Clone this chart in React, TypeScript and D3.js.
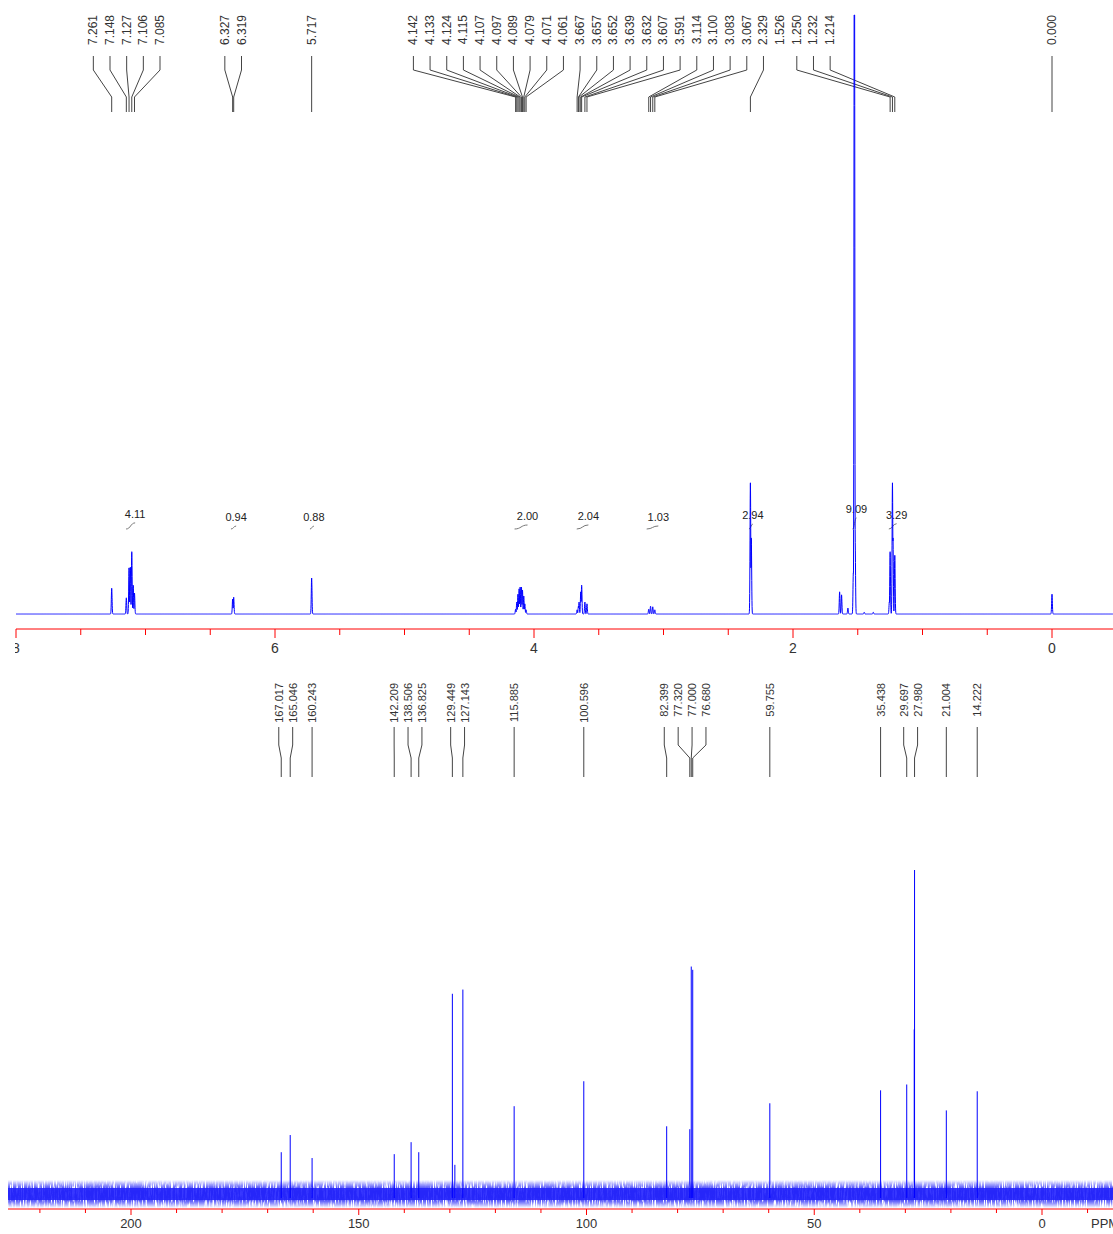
import React from "react";
import * as d3 from "d3";

// ---------- 1H spectrum data ----------
const H_AXIS_LABELS = [8, 6, 4, 2, 0];
const H_PEAK_LABELS = [
  7.261, 7.148, 7.127, 7.106, 7.085, 6.327, 6.319, 5.717,
  4.142, 4.133, 4.124, 4.115, 4.107, 4.097, 4.089, 4.079, 4.071, 4.061,
  3.667, 3.657, 3.652, 3.639, 3.632, 3.607, 3.591,
  3.114, 3.1, 3.083, 3.067, 2.329, 1.526, 1.25, 1.232, 1.214, 0.0,
];
// label block each peak label belongs to (categorical grouping)
const H_PEAK_LABEL_GROUP = [
  0, 0, 0, 0, 0, 1, 1, 2,
  3, 3, 3, 3, 3, 3, 3, 3, 3, 3,
  3, 3, 3, 3, 3, 3, 3,
  3, 3, 3, 3, 3, 3, 3, 3, 3, 4,
];
const H_LABELS_WITHOUT_LEADER = [1.526];

const H_PEAK_PPM = [
  7.261, 7.148, 7.127, 7.117, 7.106, 7.095, 7.085,
  6.327, 6.319, 5.717,
  4.142, 4.133, 4.124, 4.115, 4.107, 4.097, 4.089, 4.079, 4.071, 4.061,
  3.667, 3.657, 3.652, 3.639, 3.632, 3.607, 3.591,
  3.114, 3.1, 3.083, 3.067,
  2.329, 2.322, 1.64, 1.625, 1.576, 1.534, 1.526, 1.52, 1.45, 1.38,
  1.256, 1.25, 1.232, 1.228, 1.214, 0.0,
];
const H_PEAK_INTENSITY = [
  4.3, 2.7, 7.7, 7.8, 10.4, 4.8, 3.5,
  2.5, 2.8, 6.0,
  0.8, 2.0, 3.3, 4.2, 4.5, 4.5, 4.0, 3.0, 1.7, 0.7,
  0.7, 1.3, 2.0, 3.7, 4.8, 2.0, 1.7,
  0.8, 1.3, 1.2, 0.7,
  21.9, 12.7, 3.7, 3.2, 1.0, 6.8, 140, 12.4, 0.3, 0.3,
  2.0, 10.4, 21.9, 12.7, 9.8, 3.3,
];

const H_INTEGRAL_VALUES = ["4.11", "0.94", "0.88", "2.00", "2.04", "1.03", "2.94", "9.09", "3.29"];
const H_INTEGRAL_FROM = [7.15, 6.34, 5.73, 4.15, 3.67, 3.13, 2.34, 1.54, 1.26];
const H_INTEGRAL_TO = [7.08, 6.3, 5.7, 4.05, 3.58, 3.04, 2.31, 1.51, 1.2];

// ---------- 13C spectrum data ----------
const C_AXIS_LABELS = [200, 150, 100, 50, 0];
const C_PEAK_LABELS = [
  167.017, 165.046, 160.243, 142.209, 138.506, 136.825, 129.449, 127.143,
  115.885, 100.596, 82.399, 77.32, 77.0, 76.68, 59.755, 35.438, 29.697,
  27.98, 21.004, 14.222,
];
const C_PEAK_PPM = [
  167.017, 165.046, 160.243, 142.209, 138.506, 136.825, 129.449, 128.9,
  127.143, 115.885, 100.596, 82.399, 77.32, 77.0, 76.68, 59.755, 35.438,
  29.697, 28.05, 27.98, 21.004, 14.222,
];
const C_PEAK_INTENSITY = [
  12.9, 18.2, 11.1, 12.3, 16.0, 12.9, 61.8, 9.0,
  63.1, 27.1, 34.8, 20.9, 20.0, 70.2, 69.2, 28.0, 32.0,
  33.8, 50.8, 100, 25.8, 31.7,
];

const FONT = "'Liberation Sans', Arial, sans-serif";

// Place labels with a fixed gap: each cluster is centred on the mean of its
// peaks' positions; overlapping clusters are merged.
function spreadLabels(ideal: number[], gap: number, groups?: number[]): number[] {
  const order = ideal.map((_, i) => i).sort((a, b) => ideal[a] - ideal[b]);
  type Cl = { idx: number[]; sum: number; g: number | null };
  const cs: Cl[] = [];
  order.forEach((i) => {
    const g = groups ? groups[i] : null;
    const last = cs[cs.length - 1];
    if (last && g !== null && last.g === g) {
      last.idx.push(i);
      last.sum += ideal[i];
    } else cs.push({ idx: [i], sum: ideal[i], g });
  });
  const start = (c: Cl) => c.sum / c.idx.length - ((c.idx.length - 1) * gap) / 2;
  let merged = true;
  while (merged) {
    merged = false;
    for (let i = 0; i < cs.length - 1; i++) {
      const a = cs[i], b = cs[i + 1];
      if (start(a) + a.idx.length * gap > start(b) + 0.01) {
        cs.splice(i, 2, { idx: [...a.idx, ...b.idx], sum: a.sum + b.sum, g: a.g });
        merged = true;
        break;
      }
    }
  }
  const out: number[] = new Array(ideal.length);
  cs.forEach((c) => {
    const s = start(c);
    c.idx.forEach((i, k) => (out[i] = s + k * gap));
  });
  return out;
}

export default function App() {
  const W = 1113, H = 1234;

  // 1H scales
  const xH = d3.scaleLinear().domain([8, 0]).range([16, 1052]);
  const yH = d3.scaleLinear().domain([0, 100]).range([614, 15]).clamp(true);
  const hAxisY = 629;

  // 13C scales
  const xC = d3.scaleLinear().domain([200, 0]).range([131, 1042]);
  const yC = d3.scaleLinear().domain([0, 100]).range([1194, 870]);
  const cAxisY = 1209;

  // 1H spectrum line (narrow gaussian line shape around each listed peak)
  const sigma = 0.0028;
  const samples: number[] = d3.range(8.0, xH.invert(W), -0.0008).concat(H_PEAK_PPM);
  samples.sort((a, b) => b - a);
  const hData = samples.map((p) => {
    let v = 0;
    for (let i = 0; i < H_PEAK_PPM.length; i++) {
      const d = p - H_PEAK_PPM[i];
      if (Math.abs(d) > 0.05) continue;
      const val = H_PEAK_INTENSITY[i] * Math.exp(-(d * d) / (2 * sigma * sigma));
      if (val > v) v = val;
    }
    return { p, v };
  });
  const hLine = d3
    .line<{ p: number; v: number }>()
    .x((d) => xH(d.p))
    .y((d) => yH(d.v))(hData) as string;

  const hLabelX = spreadLabels(H_PEAK_LABELS.map((p) => xH(p)), 16.67, H_PEAK_LABEL_GROUP);
  const cLabelX = spreadLabels(C_PEAK_LABELS.map((p) => xC(p)), 13.9);

  const hMinor = d3.range(0, 8.001, 0.5);
  const cMinor = d3.range(-10, 220.001, 10);

  const riseScale = d3.scaleLinear().domain([0, 10]).range([2, 12]);
  const integralBase = 529;

  return (
    <svg
      width={W}
      height={H}
      style={{ position: "absolute", left: 0, top: 0, background: "#fff" }}
      fontFamily={FONT}
    >
      <defs>
        <clipPath id="hAxisClip">
          <rect x={15} y={0} width={W} height={H} />
        </clipPath>
        <linearGradient id="noiseGrad" x1="0" y1="0" x2="0" y2="1">
          <stop offset="0%" stopColor="#0000ff" stopOpacity={0} />
          <stop offset="22%" stopColor="#0000ff" stopOpacity={0.6} />
          <stop offset="38%" stopColor="#0000ff" stopOpacity={1} />
          <stop offset="64%" stopColor="#0000ff" stopOpacity={1} />
          <stop offset="80%" stopColor="#0000ff" stopOpacity={0.6} />
          <stop offset="100%" stopColor="#0000ff" stopOpacity={0} />
        </linearGradient>
        <filter id="noiseTex" x="0" y="0" width="100%" height="100%">
          <feTurbulence type="fractalNoise" baseFrequency="0.9 0.06" numOctaves={3} seed={7} result="t" />
          <feColorMatrix
            in="t"
            type="matrix"
            values="0 0 0 0 0.02  0 0 0 0 0.02  0 0 0 0 0.95  0 0 0 5 -1.5"
            result="m"
          />
          <feComposite in="m" in2="SourceGraphic" operator="in" />
        </filter>
      </defs>
      <rect x={0} y={0} width={W} height={H} fill="#fff" />

      {/* ===== 1H peak labels ===== */}
      {H_PEAK_LABELS.map((p, i) => {
        const lx = hLabelX[i];
        const px = xH(p);
        return (
          <g key={"hl" + i}>
            <text
              transform={`translate(${lx},15) rotate(-90)`}
              textAnchor="end"
              dominantBaseline="central"
              fontSize={12}
              fill="#333"
            >
              {p.toFixed(3)}
            </text>
            {!H_LABELS_WITHOUT_LEADER.includes(p) && (
              <path
                d={`M${lx},56 V70 L${px},97 V112`}
                fill="none"
                stroke="#444"
                strokeWidth={1}
              />
            )}
          </g>
        );
      })}

      {/* ===== 1H integrals ===== */}
      {H_INTEGRAL_VALUES.map((v, i) => {
        const x0 = xH(H_INTEGRAL_FROM[i]);
        const x1 = xH(H_INTEGRAL_TO[i]);
        const rise = riseScale(parseFloat(v));
        const y0 = integralBase;
        const y1 = integralBase - rise;
        const xm = (x0 + x1) / 2;
        return (
          <g key={"int" + i}>
            <path
              d={`M${x0},${y0} C${xm},${y0} ${xm},${y1} ${x1},${y1}`}
              fill="none"
              stroke="#777"
              strokeWidth={1}
            />
            <text x={x1} y={y1 - 5} textAnchor="middle" fontSize={11} fill="#222">
              {v}
            </text>
          </g>
        );
      })}

      {/* ===== 1H spectrum ===== */}
      <path d={hLine} fill="none" stroke="#0000ff" strokeWidth={1} />

      {/* ===== 1H axis ===== */}
      <line x1={xH(8)} x2={W} y1={hAxisY} y2={hAxisY} stroke="#ff0000" strokeWidth={1} />
      {hMinor.map((t) => (
        <line
          key={"hm" + t}
          x1={xH(t)}
          x2={xH(t)}
          y1={hAxisY}
          y2={H_AXIS_LABELS.includes(t) ? hAxisY + 9 : hAxisY + 6}
          stroke="#ff0000"
          strokeWidth={1}
        />
      ))}
      <g clipPath="url(#hAxisClip)">
        {H_AXIS_LABELS.map((t) => (
          <text
            key={"ht" + t}
            x={xH(t)}
            y={hAxisY + 24}
            textAnchor="middle"
            fontSize={14}
            fill="#333"
          >
            {t}
          </text>
        ))}
      </g>

      {/* ===== 13C peak labels ===== */}
      {C_PEAK_LABELS.map((p, i) => {
        const lx = cLabelX[i];
        const px = xC(p);
        return (
          <g key={"cl" + i}>
            <text
              transform={`translate(${lx},683) rotate(-90)`}
              textAnchor="end"
              dominantBaseline="central"
              fontSize={11}
              fill="#333"
            >
              {p.toFixed(3)}
            </text>
            <path
              d={`M${lx},727 V745 L${px},758 V777`}
              fill="none"
              stroke="#444"
              strokeWidth={1}
            />
          </g>
        );
      })}

      {/* ===== 13C spectrum: noise band + peaks ===== */}
      <rect x={8} y={1188} width={W - 8} height={12} fill="#0000ff" opacity={0.78} />
      <rect x={8} y={1180} width={W - 8} height={28} fill="url(#noiseGrad)" filter="url(#noiseTex)" />
      {C_PEAK_PPM.map((p, i) => (
        <line
          key={"cp" + i}
          x1={xC(p)}
          x2={xC(p)}
          y1={yC(0) + 4}
          y2={yC(C_PEAK_INTENSITY[i])}
          stroke="#0000ff"
          strokeWidth={1}
        />
      ))}

      {/* ===== 13C axis ===== */}
      <line x1={8} x2={W} y1={cAxisY} y2={cAxisY} stroke="#ff0000" strokeWidth={1} />
      {cMinor.map((t) => (
        <line
          key={"cm" + t}
          x1={xC(t)}
          x2={xC(t)}
          y1={cAxisY}
          y2={C_AXIS_LABELS.includes(t) ? cAxisY + 6 : cAxisY + 4}
          stroke="#ff0000"
          strokeWidth={1}
        />
      ))}
      {C_AXIS_LABELS.map((t) => (
        <text
          key={"ct" + t}
          x={xC(t)}
          y={cAxisY + 19}
          textAnchor="middle"
          fontSize={13}
          fill="#333"
        >
          {t}
        </text>
      ))}
      <text x={1091} y={cAxisY + 19} fontSize={13} fill="#333">
        PPM
      </text>
    </svg>
  );
}
